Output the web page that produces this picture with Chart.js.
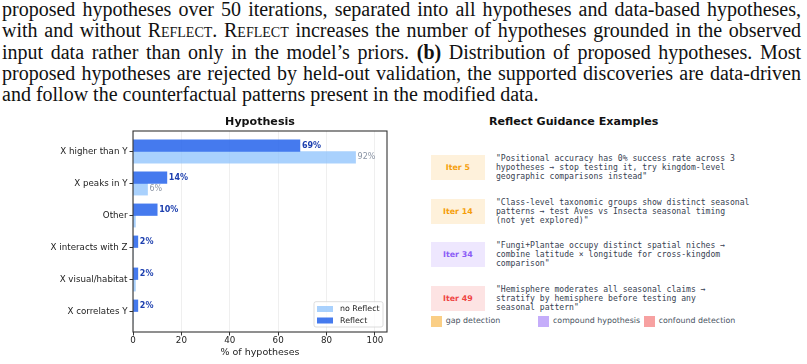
<!DOCTYPE html>
<html>
<head>
<meta charset="utf-8">
<script src="https://cdn.jsdelivr.net/npm/chart.js@4.4.1/dist/chart.umd.min.js"></script>
<style>
body { margin: 0; width: 807px; height: 364px; overflow: hidden; background: #fff; position: relative; }
#caption { position: absolute; left: 2px; top: -1px; width: 799px; font-family: "Liberation Serif", serif; font-size: 20px; line-height: 21.3px; color: #111; }
#caption div { text-align: justify; text-align-last: justify; white-space: nowrap; }
#caption div.last { text-align-last: left; }
.sc { font-variant: small-caps; }
#chartBox { position: absolute; left: 0; top: 110px; width: 420px; height: 254px; }
#rtitle { position: absolute; left: 573.7px; top: 122px; transform: translate(-50%, -50%); font: bold 11.1px "DejaVu Sans"; color: #111; white-space: nowrap; line-height: 1; }
.tag { position: absolute; left: 430.7px; width: 54.3px; height: 25px; text-align: center; font: bold 7.9px "DejaVu Sans"; line-height: 25px; }
.txt { position: absolute; left: 496px; font-family: "DejaVu Sans Mono"; font-size: 8.1px; line-height: 9px; white-space: pre; color: #374151; }
.sw { position: absolute; top: 316px; width: 10.7px; height: 10.7px; }
.swl { position: absolute; top: 321px; transform: translateY(-50%); font: 7.9px "DejaVu Sans"; color: #4b5563; white-space: nowrap; line-height: 1; }
</style>
</head>
<body>
<div id="caption">
  <div>proposed hypotheses over 50 iterations, separated into all hypotheses and data-based hypotheses,</div>
  <div>with and without <span class="sc">Reflect</span>. <span class="sc">Reflect</span> increases the number of hypotheses grounded in the observed</div>
  <div>input data rather than only in the model’s priors. <b>(b)</b> Distribution of proposed hypotheses. Most</div>
  <div>proposed hypotheses are rejected by held-out validation, the supported discoveries are data-driven</div>
  <div class="last">and follow the counterfactual patterns present in the modified data.</div>
</div>
<div id="chartBox"><canvas id="myChart"></canvas></div>
<div id="rtitle">Reflect Guidance Examples</div>
<div id="panel"></div>
<script>
const categories = ["X higher than Y", "X peaks in Y", "Other", "X interacts with Z", "X visual/habitat", "X correlates Y"];
const reflectPct = [69, 14, 10, 2, 2, 2];
const noReflectPct = [92, 6, 1, 0, 1, 0];
const xTicks = [0, 20, 40, 60, 80, 100];

const iterLabels = ["Iter 5", "Iter 14", "Iter 34", "Iter 49"];
const iterKinds = ["gap", "gap", "compound", "confound"];
const iterTexts = [
    "\"Positional accuracy has 0% success rate across 3\nhypotheses \u2192 stop testing it, try kingdom-level\ngeographic comparisons instead\"",
    "\"Class-level taxonomic groups show distinct seasonal\npatterns \u2192 test Aves vs Insecta seasonal timing\n(not yet explored)\"",
    "\"Fungi+Plantae occupy distinct spatial niches \u2192\ncombine latitude \u00d7 longitude for cross-kingdom\ncomparison\"",
    "\"Hemisphere moderates all seasonal claims \u2192\nstratify by hemisphere before testing any\nseasonal pattern\""
];
const kindNames = ["gap", "compound", "confound"];
const kindLabels = ["gap detection", "compound hypothesis", "confound detection"];
const kindRGB = { gap: "245,158,11", compound: "139,92,246", confound: "239,68,68" };

// right panel
const panel = document.getElementById("panel");
const boxTops = [155, 198.7, 242.3, 286];
iterLabels.forEach((lab, i) => {
    const rgb = kindRGB[iterKinds[i]];
    const tag = document.createElement("div");
    tag.className = "tag";
    tag.style.top = boxTops[i] + "px";
    tag.style.background = "rgba(" + rgb + ",0.15)";
    tag.style.color = "rgb(" + rgb + ")";
    tag.textContent = lab;
    panel.appendChild(tag);
    const txt = document.createElement("div");
    txt.className = "txt";
    txt.style.top = (boxTops[i] - 1) + "px";
    txt.textContent = iterTexts[i];
    panel.appendChild(txt);
});
const swX = [431, 538.3, 644];
kindNames.forEach((k, i) => {
    const sw = document.createElement("div");
    sw.className = "sw";
    sw.style.left = swX[i] + "px";
    sw.style.background = "rgba(" + kindRGB[k] + ",0.5)";
    panel.appendChild(sw);
    const l = document.createElement("div");
    l.className = "swl";
    l.style.left = (swX[i] + 14.7) + "px";
    l.textContent = kindLabels[i];
    panel.appendChild(l);
});

// chart
const ctx = document.getElementById("myChart");
const FONT = "DejaVu Sans";

const extras = {
    id: "extras",
    afterDatasetsDraw(chart) {
        const c = chart.ctx;
        const area = chart.chartArea;
        // value labels
        chart.data.datasets.forEach((ds, di) => {
            const meta = chart.getDatasetMeta(di);
            meta.data.forEach((bar, i) => {
                const v = ds.data[i].x;
                if (v < ds.minLabel) return;
                c.save();
                c.font = (ds.labelBold ? "bold " : "") + "8px '" + FONT + "'";
                c.fillStyle = ds.labelColor;
                c.textBaseline = "middle";
                c.textAlign = "left";
                c.fillText(v + "%", bar.x + 2, bar.y);
                c.restore();
            });
        });
        // frame
        c.save();
        c.strokeStyle = "#333";
        c.lineWidth = 1.1;
        c.strokeRect(area.left, area.top, area.right - area.left, area.bottom - area.top);
        c.restore();
    },
    afterDraw(chart) {
        const c = chart.ctx;
        const area = chart.chartArea;
        // title
        c.save();
        c.font = "bold 11.1px '" + FONT + "'";
        c.fillStyle = "#111";
        c.textAlign = "center";
        c.textBaseline = "middle";
        c.fillText("Hypothesis", (area.left + area.right) / 2, 12);
        // legend
        const w = 69, h = 25.3;
        const x0 = area.right - 4 - w, y0 = area.bottom - 5 - h;
        c.beginPath();
        c.roundRect(x0, y0, w, h, 2);
        c.fillStyle = "rgba(255,255,255,0.8)";
        c.fill();
        c.strokeStyle = "#d4d4d4";
        c.lineWidth = 0.8;
        c.stroke();
        const order = chart.data.datasets.slice().reverse();
        order.forEach((ds, k) => {
            const cy = y0 + 7.3 + k * 11.5;
            c.fillStyle = ds.backgroundColor;
            c.fillRect(x0 + 3, cy - 3, 16, 6);
            c.fillStyle = "#222";
            c.font = "7.9px '" + FONT + "'";
            c.textAlign = "left";
            c.fillText(ds.label, x0 + 26, cy);
        });
        c.restore();
    }
};

const myChart = new Chart(ctx, {
    type: "bar",
    data: {
        datasets: [
            {
                label: "Reflect",
                data: categories.map((c, i) => ({ x: reflectPct[i], y: i })),
                backgroundColor: "rgba(37,99,235,0.85)",
                barThickness: 11.6,
                labelColor: "#1e40af",
                labelBold: true,
                minLabel: 0.5,
            },
            {
                label: "no Reflect",
                data: categories.map((c, i) => ({ x: noReflectPct[i], y: i })),
                backgroundColor: "rgba(147,197,253,0.8)",
                barThickness: 11.6,
                labelColor: "#8b95a5",
                labelBold: false,
                minLabel: 5,
            },
        ],
    },
    options: {
        indexAxis: "y",
        responsive: true,
        maintainAspectRatio: false,
        animation: false,
        layout: { padding: { left: 0, top: 21, right: 33, bottom: 0 } },
        plugins: { legend: { display: false }, tooltip: { enabled: false } },
        scales: {
            x: {
                type: "linear",
                min: 0,
                max: 105,
                offset: false,
                afterBuildTicks: (a) => { a.ticks = xTicks.map((v) => ({ value: v })); },
                afterFit: (s) => { s.height = 32; },
                grid: { offset: false, color: "#ebebeb", lineWidth: 0.8, tickColor: "#333", tickLength: 3.5, tickWidth: 1 },
                border: { display: false },
                ticks: { font: { family: FONT, size: 8.7 }, color: "#222", padding: 0, maxRotation: 0 },
                title: { display: true, text: "% of hypotheses", color: "#222", font: { family: FONT, size: 9.5 }, padding: { top: 0, bottom: 6 } },
            },
            y: {
                type: "linear",
                reverse: true,
                offset: false,
                min: -0.64,
                max: 5.64,
                afterBuildTicks: (a) => { a.ticks = categories.map((c, i) => ({ value: i })); },
                afterFit: (s) => { s.width = 133; },
                grid: { offset: false, drawOnChartArea: false, tickColor: "#333", tickLength: 3.5, tickWidth: 1 },
                border: { display: false },
                ticks: { callback: (v) => categories[v], font: { family: FONT, size: 8.7 }, color: "#222", padding: 2 },
            },
        },
    },
    plugins: [extras],
});
</script>
</body>
</html>
